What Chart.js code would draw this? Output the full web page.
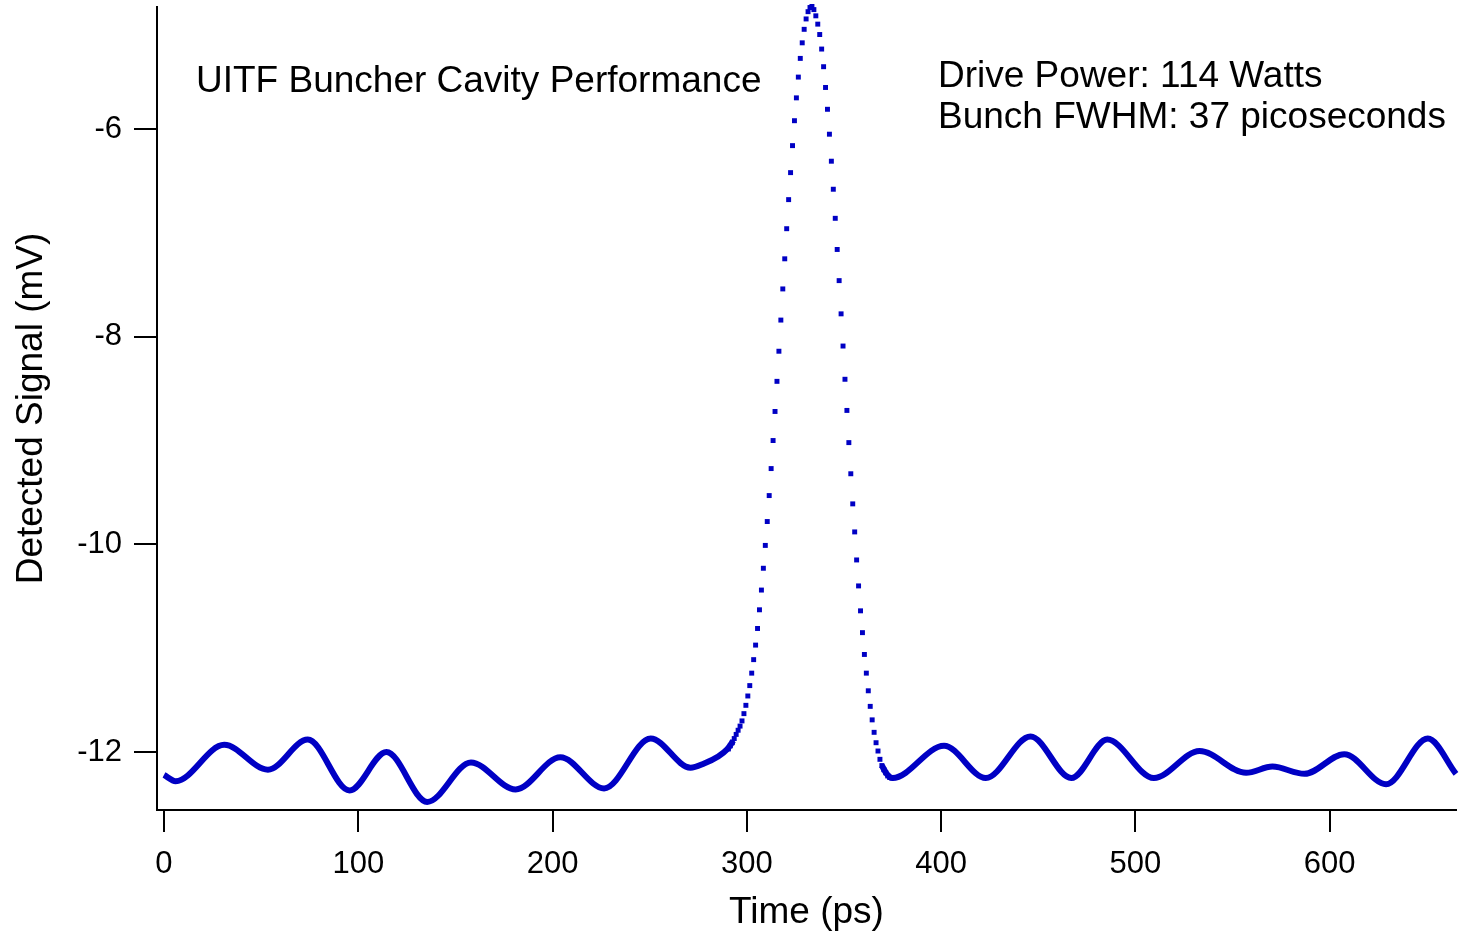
<!DOCTYPE html>
<html>
<head>
<meta charset="utf-8">
<script src="https://cdn.jsdelivr.net/npm/chart.js@4"></script>
<style>
  html, body { margin: 0; padding: 0; background: #fff; }
</style>
</head>
<body>
<canvas id="chart_buncher" width="1463" height="937"></canvas>
<script>
// baseline before the bunch (ps, mV)
var baseTimesA = [0, 6, 31, 53.5, 74, 95.5, 114.5, 135.5, 158, 181, 204, 226.5, 250.5, 271, 278, 285, 290, 293];
var baseValuesA = [-12.22, -12.28, -11.93, -12.17, -11.88, -12.37, -12.00, -12.48, -12.10, -12.36, -12.05, -12.35, -11.87, -12.15, -12.11, -12.045, -11.97, -11.89];

// baseline after the bunch
var baseTimesB = [369.5, 372, 375, 401.5, 423, 446, 467, 485.5, 509.5, 533, 557, 570.5, 587, 607.5, 629, 650.5, 665];
var baseValuesB = [-12.13, -12.21, -12.25, -11.94, -12.25, -11.85, -12.25, -11.88, -12.25, -11.99, -12.20, -12.14, -12.21, -12.02, -12.31, -11.87, -12.21];

// sampled points through the bunch
var peakTimes = [
  290.5, 291.5, 292.5, 293.5, 294.5, 295.5, 296.5, 297.5, 298.5, 299.5,
  300.5, 301.5, 302.5, 303.5, 304.5, 305.5, 306.5, 307.5, 308.5, 309.5,
  310.5, 311.5, 312.5, 313.5, 314.5, 315.5, 316.5, 317.5, 318.5, 319.5,
  320.5, 321.5, 322.5, 323.5, 324.5, 325.5, 326.5, 327.5, 328.5, 329.5,
  330.5, 331.5, 332.5, 333.5, 334.5, 335.5, 336.5, 337.5, 338.5, 339.5,
  340.5, 341.5, 342.5, 343.5, 344.5, 345.5, 346.5, 347.5, 348.5, 349.5,
  350.5, 351.5, 352.5, 353.5, 354.5, 355.5, 356.5, 357.5, 358.5, 359.5,
  360.5, 361.5, 362.5, 363.5, 364.5, 365.5, 366.5, 367.5, 368.5, 369.5,
  370.5, 371.5, 372.5, 373.5, 374.5
];
var peakValues = [
  -11.97, -11.94, -11.91, -11.87, -11.83, -11.79, -11.75, -11.70, -11.63, -11.55,
  -11.46, -11.36, -11.24, -11.11, -10.97, -10.81, -10.63, -10.44, -10.23, -10.01,
  -9.78, -9.53, -9.27, -9.00, -8.72, -8.43, -8.14, -7.84, -7.54, -7.25,
  -6.96, -6.68, -6.42, -6.16, -5.92, -5.70, -5.50, -5.32, -5.17, -5.04,
  -4.94, -4.87, -4.83, -4.82, -4.85, -4.91, -4.99, -5.09, -5.23, -5.40,
  -5.60, -5.81, -6.05, -6.31, -6.58, -6.86, -7.16, -7.46, -7.78, -8.09,
  -8.41, -8.71, -9.02, -9.32, -9.61, -9.88, -10.15, -10.40, -10.64, -10.85,
  -11.06, -11.24, -11.41, -11.56, -11.69, -11.81, -11.91, -11.99, -12.07, -12.13,
  -12.17, -12.20, -12.23, -12.245, -12.25
];

var xTicks = [0, 100, 200, 300, 400, 500, 600];
var yTicks = [-12, -10, -8, -6];

var FONT = "'Liberation Sans', Arial, sans-serif";
var BLUE = '#0000C4';

function toPoints(xs, ys) {
  return xs.map(function (x, i) { return { x: x, y: ys[i] }; });
}

var baseline = toPoints(baseTimesA, baseValuesA)
  .concat([{ x: 331, y: null }])
  .concat(toPoints(baseTimesB, baseValuesB));

var chart_buncher = new Chart(document.getElementById('chart_buncher'), {
  type: 'line',
  data: {
    datasets: [
      {
        label: 'baseline',
        data: baseline,
        borderColor: BLUE,
        borderWidth: 6,
        pointRadius: 0,
        cubicInterpolationMode: 'monotone',
        spanGaps: false,
        clip: false
      },
      {
        label: 'bunch',
        data: toPoints(peakTimes, peakValues),
        showLine: false,
        pointStyle: 'rect',
        pointRadius: 3.5,
        pointBorderWidth: 0,
        pointBackgroundColor: BLUE,
        clip: false
      }
    ]
  },
  options: {
    responsive: false,
    animation: false,
    layout: { padding: { top: 7, right: 7, left: 0, bottom: 0 } },
    plugins: {
      legend: { display: false },
      tooltip: { enabled: false }
    },
    scales: {
      x: {
        type: 'linear',
        min: -3.6,
        max: 665,
        afterBuildTicks: function (scale) {
          scale.ticks = xTicks.map(function (v) { return { value: v }; });
        },
        afterFit: function (scale) {
          scale.height = 127;
          scale.paddingLeft = 0;
          scale.paddingRight = 0;
        },
        grid: {
          drawOnChartArea: false,
          tickLength: 22,
          color: '#000',
          lineWidth: 2
        },
        border: { display: true, color: '#000', width: 2 },
        ticks: {
          color: '#000',
          font: { family: FONT, size: 31 },
          padding: 14,
          maxRotation: 0,
          autoSkip: false
        },
        title: {
          display: true,
          text: 'Time (ps)',
          color: '#000',
          font: { family: FONT, size: 37 },
          padding: { top: 0, bottom: 2 }
        }
      },
      y: {
        type: 'linear',
        min: -12.558,
        max: -4.825,
        afterBuildTicks: function (scale) {
          scale.ticks = yTicks.map(function (v) { return { value: v }; });
        },
        afterFit: function (scale) {
          scale.width = 157;
          scale.paddingTop = 0;
          scale.paddingBottom = 0;
        },
        grid: {
          drawOnChartArea: false,
          tickLength: 23,
          color: '#000',
          lineWidth: 2
        },
        border: { display: true, color: '#000', width: 2 },
        ticks: {
          color: '#000',
          font: { family: FONT, size: 31 },
          padding: 12,
          autoSkip: false
        },
        title: {
          display: true,
          text: 'Detected Signal (mV)',
          color: '#000',
          font: { family: FONT, size: 37 },
          padding: { top: 10, bottom: 0 }
        }
      }
    }
  },
  plugins: [{
    id: 'notes',
    afterDraw: function (chart) {
      var ctx = chart.ctx;
      ctx.save();
      ctx.fillStyle = '#000';
      ctx.font = '37px ' + FONT;
      ctx.textAlign = 'left';
      ctx.textBaseline = 'alphabetic';
      ctx.fillText('UITF Buncher Cavity Performance', 196, 92);
      ctx.fillText('Drive Power: 114 Watts', 938, 87);
      ctx.fillText('Bunch FWHM: 37 picoseconds', 938, 128);
      ctx.restore();
    }
  }, {
    id: 'whiteBackground',
    beforeDraw: function (chart) {
      var ctx = chart.ctx;
      ctx.save();
      ctx.fillStyle = 'white';
      ctx.fillRect(0, 0, chart.width, chart.height);
      ctx.restore();
    }
  }]
});
</script>
</body>
</html>
